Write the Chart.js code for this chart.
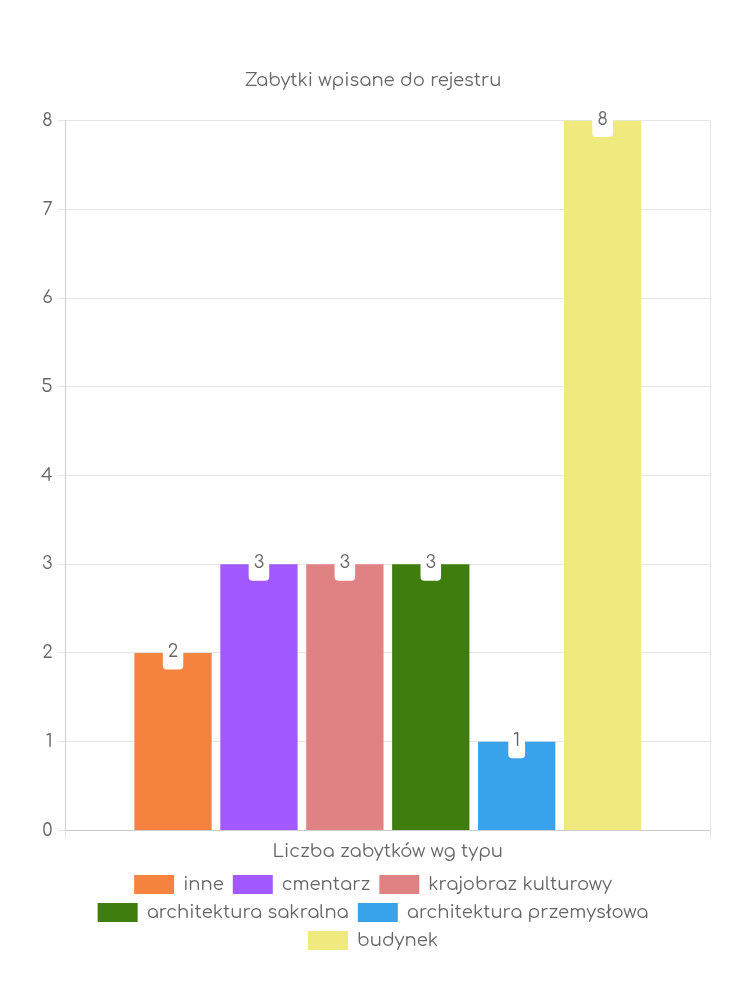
<!DOCTYPE html>
<html>
<head>
<meta charset="utf-8">
<script src="https://cdn.jsdelivr.net/npm/chart.js@4/dist/chart.umd.min.js"></script>
<style>
  html, body { margin: 0; padding: 0; background: #fff; }
  #wrap { width: 750px; height: 1000px; }
</style>
</head>
<body>
<div id="wrap"><canvas id="grafico"></canvas></div>
<script>
const kategorie = ['Liczba zabytków wg typu'];
const typy = ['inne', 'cmentarz', 'krajobraz kulturowy', 'architektura sakralna', 'architektura przemysłowa', 'budynek'];
const liczby = [2, 3, 3, 3, 1, 8];
const kolory = ['#f5833f', '#a259ff', '#e08283', '#3f7d0e', '#38a3eb', '#f0ea7e'];

const czcionka = "'Comfortaa', 'DejaVu Sans', sans-serif";
Chart.defaults.font.family = czcionka;
Chart.defaults.color = '#666';

// etykiety wartości na końcu słupków (białe pudełko)
const etykiety = {
  id: 'etykiety',
  afterDatasetsDraw(chart) {
    const ctx = chart.ctx;
    ctx.save();
    ctx.font = '18px ' + czcionka;
    ctx.textAlign = 'center';
    ctx.textBaseline = 'middle';
    chart.data.datasets.forEach((ds, i) => {
      const meta = chart.getDatasetMeta(i);
      meta.data.forEach((bar, j) => {
        const txt = String(ds.data[j]);
        const w = ctx.measureText(txt).width + 10;
        const h = 33;
        ctx.fillStyle = '#fff';
        ctx.beginPath();
        ctx.roundRect(bar.x - w / 2, bar.y - h / 2, w, h, 4);
        ctx.fill();
        ctx.fillStyle = '#666';
        ctx.fillText(txt, bar.x, bar.y - 1);
      });
    });
    ctx.restore();
  }
};

const zbiory = typy.map((t, i) => ({
  label: t,
  data: [liczby[i]],
  backgroundColor: kolory[i],
  borderWidth: 0
}));

new Chart(document.getElementById('grafico'), {
  type: 'bar',
  data: { labels: kategorie, datasets: zbiory },
  plugins: [etykiety],
  options: {
    responsive: true,
    maintainAspectRatio: false,
    animation: false,
    layout: { padding: { top: 70, right: 40, bottom: 40, left: 36 } },
    plugins: {
      title: {
        display: true,
        text: 'Zabytki wpisane do rejestru',
        font: { size: 18, weight: 'normal' },
        padding: { top: 0, bottom: 29 }
      },
      legend: {
        position: 'bottom',
        labels: { boxWidth: 40, boxHeight: 19, font: { size: 18 }, padding: 9 }
      },
      tooltip: { enabled: false }
    },
    scales: {
      x: {
        grid: { color: '#e5e5e5', tickLength: 8 },
        border: { color: '#ccc' },
        ticks: { font: { size: 18 } }
      },
      y: {
        beginAtZero: true,
        max: 8,
        grid: { color: '#e5e5e5', tickLength: 8 },
        border: { color: '#ccc' },
        ticks: { stepSize: 1, font: { size: 18 }, padding: 5 }
      }
    }
  }
});
</script>
</body>
</html>
